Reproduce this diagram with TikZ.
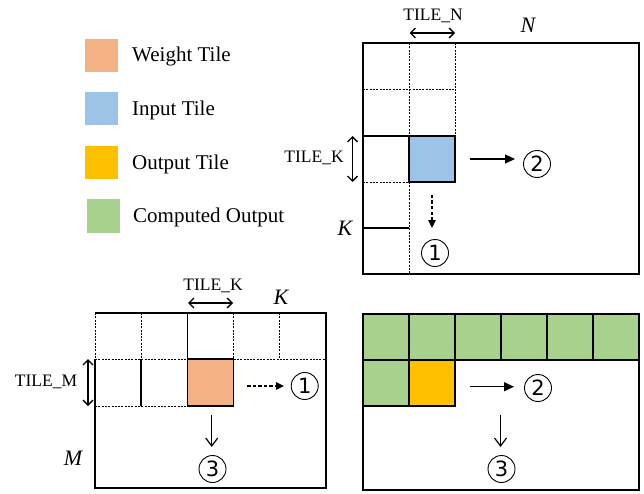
\documentclass[tikz,border=0pt]{standalone}
\usepackage{fontspec}
\setmainfont{Liberation Serif}
\newfontfamily\circfont{DejaVu Sans}
\usetikzlibrary{arrows.meta}
\definecolor{wcol}{HTML}{F4B183}
\definecolor{icol}{HTML}{9DC3E6}
\definecolor{ocol}{HTML}{FFC000}
\definecolor{gcol}{HTML}{A9D18E}
\tikzset{
  mline/.style={line width=1.15pt},
  dline/.style={line width=0.85pt, dash pattern=on 2pt off 1.3pt},
  swatch/.style={draw=none, minimum width=33pt, minimum height=33pt, inner sep=0pt},
  legtext/.style={anchor=west, font=\fontsize{21}{24}\selectfont, inner sep=0pt},
  tilelab/.style={font=\fontsize{17.5}{20}\selectfont, inner sep=0pt},
  ital/.style={font=\fontsize{22}{26}\selectfont\itshape, inner sep=0pt},
  circ/.style={circle, draw, line width=0.9pt, minimum size=27pt, inner sep=0pt,
               font=\circfont\fontsize{21}{21}\selectfont},
  dbl/.style={{Straight Barb[length=5pt,width=10pt]}-{Straight Barb[length=5pt,width=10pt]}, line width=1.3pt},
  arr/.style={-{Triangle[length=10pt,width=9pt]}, line width=1.2pt},
  varr/.style={-{Straight Barb[length=8pt,width=12pt]}, line width=1.2pt},
  darr/.style={-{Triangle[length=8pt,width=7.5pt]}, line width=1.2pt, dash pattern=on 3.5pt off 2pt},
}
\begin{document}
\begin{tikzpicture}[x=1pt,y=-1pt]
\useasboundingbox (0,0) rectangle (644,494);
% legend
\node[swatch, fill=wcol] (sw) at (101.5,55.5) {};
\node[legtext] (tw) at (132,56.5) {Weight Tile};
\node[swatch, fill=icol] (si) at (101.5,108.5) {};
\node[legtext] (ti) at (132,110.5) {Input Tile};
\node[swatch, fill=ocol] (so) at (101.5,162.5) {};
\node[legtext] (to) at (132,164) {Output Tile};
\node[swatch, fill=gcol] (sg) at (103,216) {};
\node[legtext] (tg) at (133,217) {Computed Output};

% ---------- input matrix (top right)
\draw[mline] (363,43) rectangle (639,274);
\draw[dline] (409,43) -- (409,136);
\draw[dline] (409,182) -- (409,274);
\draw[dline] (455,43) -- (455,136);
\draw[dline] (363,89) -- (455,89);
\draw[mline] (363,136) -- (409,136);
\draw[dline] (363,182) -- (409,182);
\draw[mline] (363,228) -- (409,228);
\draw[mline, fill=icol] (409,136) rectangle (455,182);
\node[tilelab] (tn) at (433,16) {TILE\_N};
\coordinate (tnl) at (409.5,33);
\coordinate (tnr) at (455,33);
\draw[dbl] (tnl) -- (tnr);
\node[ital] (nN) at (528,25) {N};
\node[tilelab] (tk1) at (314,158) {TILE\_K};
\coordinate (tkt) at (352.5,136);
\coordinate (tkb) at (352.5,182);
\draw[dbl] (tkt) -- (tkb);
\node[ital] (nK1) at (345,228) {K};
\coordinate (ia1) at (432,195);
\coordinate (ia1e) at (432,228);
\node[circ] (c1a) at (435,253) {1};
\draw[darr] (ia1) -- (ia1e);
\coordinate (ia2) at (470,159);
\coordinate (ia2e) at (515,159);
\node[circ] (c2a) at (537,164) {2};
\draw[arr] (ia2) -- (ia2e);

% ---------- weight matrix (bottom left)
\draw[mline] (95,359) -- (95,488) -- (326,488) -- (326,313) -- (95,313);
\draw[dline] (95,313) -- (95,359);
\draw[dline] (141,313) -- (141,359);
\draw[mline] (141,359) -- (141,406);
\draw[mline] (187.7,313) -- (187.7,359);
\draw[dline] (233.3,313) -- (233.3,359);
\draw[dline] (279,313) -- (279,359);
\draw[dline] (95,359) -- (326,359);
\draw[dline] (95,406) -- (187.7,406);
\draw[mline, fill=wcol] (187.7,359) rectangle (233.3,406);
\node[tilelab] (tk2) at (213,285.5) {TILE\_K};
\coordinate (tk2l) at (188,303);
\coordinate (tk2r) at (233,303);
\draw[dbl] (tk2l) -- (tk2r);
\node[ital] (nK2) at (281,297) {K};
\node[tilelab] (tm) at (46,382) {TILE\_M};
\coordinate (tmt) at (88,359);
\coordinate (tmb) at (88,406);
\draw[dbl] (tmt) -- (tmb);
\node[ital] (nM) at (73,458) {M};
\coordinate (wa1) at (247,386);
\coordinate (wa1e) at (284,386);
\node[circ] (c1b) at (304.7,386) {1};
\draw[darr] (wa1) -- (wa1e);
\coordinate (wa3) at (211.7,415);
\coordinate (wa3e) at (211.7,447);
\node[circ] (c3a) at (212.5,469) {3};
\draw[varr] (wa3) -- (wa3e);

% ---------- output matrix (bottom right)
\foreach \i in {0,...,5}
  \draw[mline, fill=gcol] ({363+46*\i},314) rectangle ++(46,46);
\draw[mline, fill=gcol] (363,360) rectangle (409,406);
\draw[mline, fill=ocol] (409,360) rectangle (455,406);
\draw[mline] (363,314) rectangle (639,490);
\coordinate (oa2) at (470,386.7);
\coordinate (oa2e) at (514,386.7);
\node[circ] (c2b) at (538,388) {2};
\draw[arr] (oa2) -- (oa2e);
\coordinate (oa3) at (500.5,415);
\coordinate (oa3e) at (500.5,447);
\node[circ] (c3b) at (501.5,469) {3};
\draw[varr] (oa3) -- (oa3e);
\end{tikzpicture}
\end{document}
